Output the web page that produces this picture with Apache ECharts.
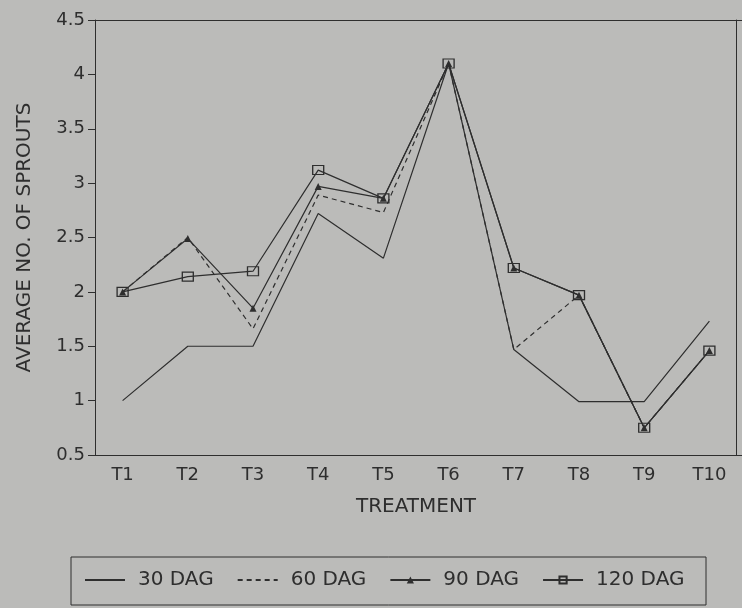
<!DOCTYPE html>
<html><head><meta charset="utf-8">
<script src="https://cdn.jsdelivr.net/npm/echarts@6/dist/echarts.min.js"></script>
<style>html,body{margin:0;padding:0;background:#bbbbb9}#c{width:742px;height:608px}</style>
</head><body><div id="c"></div>
<script>
var categories = ['T1','T2','T3','T4','T5','T6','T7','T8','T9','T10'];
var dag30 = [1.0, 1.5, 1.5, 2.72, 2.31, 4.1, 1.47, 0.99, 0.99, 1.73];
var dag60 = [2.0, 2.5, 1.66, 2.89, 2.73, 4.1, 1.47, 1.97, 0.75, 1.46];
var dag90 = [2.0, 2.49, 1.85, 2.97, 2.86, 4.1, 2.22, 1.97, 0.75, 1.46];
var dag120 = [2.0, 2.14, 2.19, 3.12, 2.86, 4.1, 2.22, 1.97, 0.75, 1.46];
var seriesNames = ['30 DAG','60 DAG','90 DAG','120 DAG'];

var ink = '#2e2e2e', bg = '#bbbbb9';
var font = 'DejaVu Sans, sans-serif';
var chart = echarts.init(document.getElementById('c'));
chart.setOption({
  backgroundColor: bg,
  animation: false,
  grid: {left: 90, right: -1, top: 20, bottom: 153, show: false},
  xAxis: [{
    type: 'category', data: categories, boundaryGap: true,
    name: 'TREATMENT', nameLocation: 'middle', nameGap: 42,
    nameTextStyle: {color: ink, fontSize: 20, fontFamily: font},
    axisLine: {lineStyle: {color: ink, width: 1}},
    axisTick: {alignWithLabel: true, length: 5, lineStyle: {color: ink}},
    axisLabel: {color: ink, fontSize: 18, fontFamily: font, margin: 11}
  }, {
    type: 'category', data: categories, position: 'top',
    axisLine: {show: true, lineStyle: {color: ink, width: 1}},
    axisTick: {show: false}, axisLabel: {show: false}
  }],
  yAxis: [{
    type: 'value', min: 0.5, max: 4.5, interval: 0.5, offset: -5,
    name: 'AVERAGE NO. OF SPROUTS', nameLocation: 'middle', nameGap: 60,
    nameTextStyle: {color: ink, fontSize: 20, fontFamily: font},
    axisLine: {show: true, lineStyle: {color: ink, width: 1}},
    axisTick: {show: true, length: 7, lineStyle: {color: ink}},
    splitLine: {show: false},
    axisLabel: {color: ink, fontSize: 18, fontFamily: font, margin: 10}
  }, {
    type: 'value', min: 0.5, max: 4.5, interval: 0.5, position: 'right', offset: -6,
    axisLine: {show: true, lineStyle: {color: ink, width: 1}},
    axisTick: {show: false}, axisLabel: {show: false}, splitLine: {show: false}
  }],
  legend: {
    data: [
      {name: '30 DAG', itemStyle: {opacity: 0}},
      {name: '60 DAG', itemStyle: {opacity: 0}},
      {name: '90 DAG'},
      {name: '120 DAG'}
    ],
    left: 79, top: 565, itemWidth: 40, itemHeight: 9, itemGap: 23,
    textStyle: {color: ink, fontSize: 20, fontFamily: font, padding: [0, 0, 0, 8]}
  },
  graphic: [{type: 'rect', shape: {x: 71, y: 557, width: 635, height: 48}, style: {fill: 'none', stroke: ink, lineWidth: 1}}],
  series: [
    {name: '30 DAG', type: 'line', data: dag30, symbol: 'none', lineStyle: {color: ink, width: 1.2}, itemStyle: {color: ink}},
    {name: '60 DAG', type: 'line', data: dag60, symbol: 'none', lineStyle: {color: ink, width: 1.2, type: [5, 4]}, itemStyle: {color: ink}},
    {name: '90 DAG', type: 'line', data: dag90, symbol: 'triangle', symbolSize: 7, lineStyle: {color: ink, width: 1.2}, itemStyle: {color: ink}},
    {name: '120 DAG', type: 'line', data: dag120, symbol: 'rect', symbolSize: [11, 9], lineStyle: {color: ink, width: 1.2}, itemStyle: {color: 'rgba(0,0,0,0)', borderColor: ink, borderWidth: 1.2}}
  ]
});
</script></body></html>
